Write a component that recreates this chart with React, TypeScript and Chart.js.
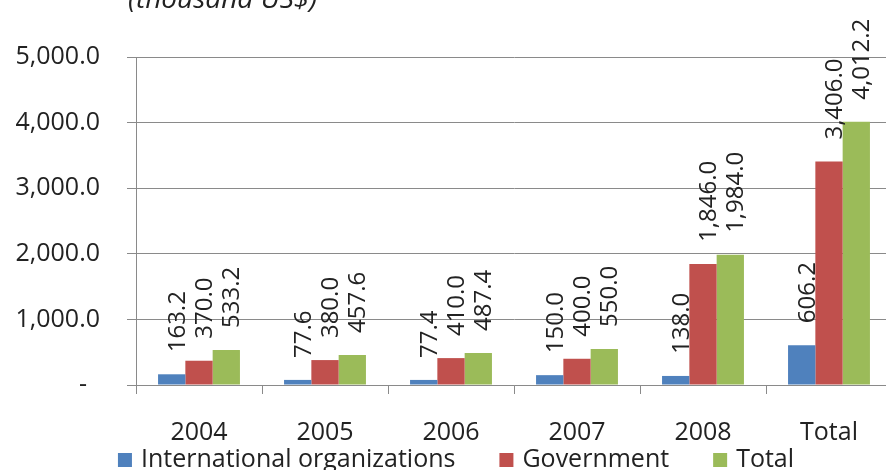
import React, { useEffect, useRef } from "react";
import { Chart, registerables } from "chart.js";

Chart.register(...registerables);

// Funding by source, thousand US$
const categories = ["2004", "2005", "2006", "2007", "2008", "Total"];
const internationalOrgs = [163.2, 77.6, 77.4, 150.0, 138.0, 606.2];
const government = [370.0, 380.0, 410.0, 400.0, 1846.0, 3406.0];
const totals = [533.2, 457.6, 487.4, 550.0, 1984.0, 4012.2];
const seriesNames = ["International organizations", "Government", "Total"];
const seriesColors = ["#4F81BD", "#C0504D", "#9BBB59"];
const yMin = 0;
const yMax = 5000;
const yStep = 1000;
const unitCaption = "(thousand US$)";

const FONT = "'Open Sans', 'Noto Sans', sans-serif";
const TEXT = "#222222";
const GRID = "#8a8a8a";

const fmt = (v: number) =>
  v.toLocaleString("en-US", { minimumFractionDigits: 1, maximumFractionDigits: 1 });

const decorPlugin = {
  id: "decor",
  afterDatasetsDraw(chart: any) {
    const ctx = chart.ctx;
    ctx.save();
    ctx.fillStyle = TEXT;
    ctx.font = `24px ${FONT}`;
    chart.data.datasets.forEach((ds: any, i: number) => {
      const meta = chart.getDatasetMeta(i);
      meta.data.forEach((bar: any, j: number) => {
        const v = ds.data[j] as number;
        ctx.save();
        ctx.translate(bar.x + 6, bar.y - 22);
        ctx.rotate(-Math.PI / 2);
        ctx.textAlign = "left";
        ctx.textBaseline = "middle";
        ctx.fillText(fmt(v), 0, 0);
        ctx.restore();
      });
    });
    ctx.restore();
  },
  afterDraw(chart: any) {
    const ctx = chart.ctx;
    const area = chart.chartArea;
    ctx.save();
    // unit caption above the plot
    ctx.fillStyle = TEXT;
    ctx.font = `italic 28px ${FONT}`;
    ctx.textAlign = "left";
    ctx.textBaseline = "alphabetic";
    ctx.fillText(unitCaption, area.left - 8, 8);

    // legend row along the bottom
    ctx.font = `25px ${FONT}`;
    const box = 14;
    const boxGap = 9;
    const itemGap = 44;
    const items = chart.data.datasets.map((ds: any) => ({
      label: ds.label as string,
      color: ds.backgroundColor as string,
      w: box + boxGap + ctx.measureText(ds.label).width,
    }));
    const total =
      items.reduce((s: number, it: any) => s + it.w, 0) + itemGap * (items.length - 1);
    let x = chart.width / 2 + 6 - total / 2;
    const baseline = chart.height - 3;
    items.forEach((it: any) => {
      ctx.fillStyle = it.color;
      ctx.fillRect(x, baseline - box, box, box);
      ctx.fillStyle = TEXT;
      ctx.fillText(it.label, x + box + boxGap, baseline);
      x += it.w + itemGap;
    });
    ctx.restore();
  },
};

export default function App() {
  const canvasRef = useRef<HTMLCanvasElement | null>(null);

  useEffect(() => {
    document.body.style.margin = "0";
    const canvas = canvasRef.current;
    if (!canvas) return;
    const chart = new Chart(canvas, {
      type: "bar",
      data: {
        labels: categories,
        datasets: [
          { label: seriesNames[0], data: internationalOrgs, backgroundColor: seriesColors[0] },
          { label: seriesNames[1], data: government, backgroundColor: seriesColors[1] },
          { label: seriesNames[2], data: totals, backgroundColor: seriesColors[2] },
        ],
      },
      options: {
        responsive: false,
        animation: false,
        devicePixelRatio: 1,
        layout: { padding: { top: 57, left: 0, right: 8, bottom: 0 } },
        datasets: {
          bar: { barPercentage: 1, categoryPercentage: 0.65 },
        },
        plugins: {
          legend: { display: false },
          tooltip: { enabled: false },
          title: { display: false },
        },
        scales: {
          x: {
            grid: {
              display: true,
              drawOnChartArea: false,
              drawTicks: true,
              tickLength: 9,
              color: GRID,
              offset: true,
            },
            border: { display: true, color: GRID, width: 1 },
            ticks: {
              color: TEXT,
              font: { family: FONT, size: 25 },
              padding: 24,
              maxRotation: 0,
              autoSkip: false,
            },
            afterFit: (scale: any) => {
              scale.height = 85;
            },
          },
          y: {
            min: yMin,
            max: yMax,
            grid: { color: GRID, lineWidth: 1, tickLength: 9, drawTicks: true },
            border: { display: true, color: GRID, width: 1 },
            ticks: {
              stepSize: yStep,
              color: TEXT,
              font: { family: FONT, size: 25 },
              padding: 27,
              callback: (v: any) => (Number(v) === 0 ? "-  " : fmt(Number(v))),
            },
            afterFit: (scale: any) => {
              scale.width = 136;
            },
          },
        },
      },
      plugins: [decorPlugin],
    });
    return () => chart.destroy();
  }, []);

  return (
    <div style={{ width: 886, height: 470, overflow: "hidden", background: "#fff" }}>
      <canvas ref={canvasRef} width={900} height={470} style={{ display: "block" }} />
    </div>
  );
}
